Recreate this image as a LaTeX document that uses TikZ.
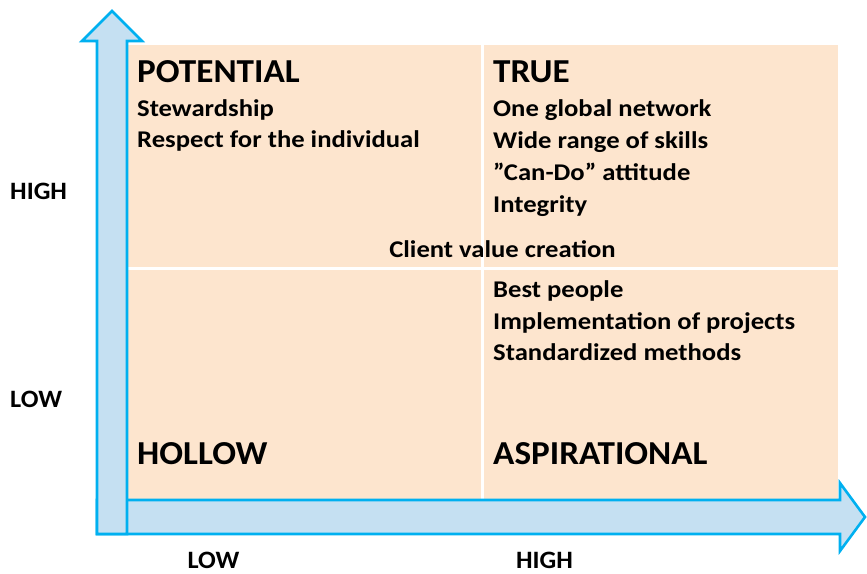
\documentclass[tikz,border=0pt]{standalone}
\usepackage{fontspec}
\setmainfont{Carlito}
\newfontfamily\bodyfont[FakeStretch=1.11]{Carlito}
\newfontfamily\headfont[FakeStretch=1.05]{Carlito}
\definecolor{peach}{RGB}{253,229,206}
\definecolor{axisfill}{RGB}{197,224,242}
\definecolor{axisline}{RGB}{0,176,240}
\begin{document}
\begin{tikzpicture}[x=1pt,y=-1pt,
  titletext/.style={anchor=base west,inner sep=0,font=\headfont\fontsize{33.5}{36}\selectfont\bfseries},
  itemtext/.style={anchor=base west,inner sep=0,font=\bodyfont\fontsize{24}{28}\selectfont\bfseries},
  axislabel/.style={anchor=base west,inner sep=0,font=\headfont\fontsize{25}{28}\selectfont\bfseries},
  cell/.style={fill=peach,draw=none},
  axisarrow/.style={fill=axisfill,draw=axisline,line width=2.6pt,line join=miter}]
\useasboundingbox (0,0) rectangle (867,573);
% quadrant cells
\fill[cell] (128,45) rectangle (480.5,266.5);
\fill[cell] (483.5,45) rectangle (838,266.5);
\fill[cell] (128,269.5) rectangle (480.5,500);
\fill[cell] (483.5,269.5) rectangle (838,500);
% horizontal axis arrow
\draw[axisarrow] (97,500) -- (840,500) -- (840,483) -- (865,517) -- (840,551) -- (840,534) -- (97,534) -- cycle;
% vertical axis arrow
\draw[axisarrow] (97,534) -- (97,41) -- (82,41) -- (112,11) -- (142,41) -- (127,41) -- (127,534) -- cycle;
% texts
\node[titletext] (potential) at (137,82) {POTENTIAL};
\node[itemtext] (stew) at (137,116) {Stewardship};
\node[itemtext] (respect) at (137,147.5) {Respect for the individual};
\node[titletext] (true) at (493,82) {TRUE};
\node[itemtext] (global) at (493,116) {One global network};
\node[itemtext] (skills) at (493,148) {Wide range of skills};
\node[itemtext] (cando) at (493,180) {”Can-Do” attitude};
\node[itemtext] (integrity) at (493,212) {Integrity};
\node[itemtext,anchor=base] (client) at (502.5,257) {Client value creation};
\node[itemtext] (best) at (493,297.5) {Best people};
\node[itemtext] (impl) at (493,329) {Implementation of projects};
\node[itemtext] (std) at (493,360.5) {Standardized methods};
\node[titletext] (hollow) at (137,464) {HOLLOW};
\node[titletext] (aspir) at (493,464) {ASPIRATIONAL};
\node[axislabel] (yhigh) at (10,199) {HIGH};
\node[axislabel] (ylow) at (10,407) {LOW};
\node[axislabel,anchor=base] (xlow) at (213.5,568) {LOW};
\node[axislabel,anchor=base] (xhigh) at (544.5,568) {HIGH};
\end{tikzpicture}
\end{document}
